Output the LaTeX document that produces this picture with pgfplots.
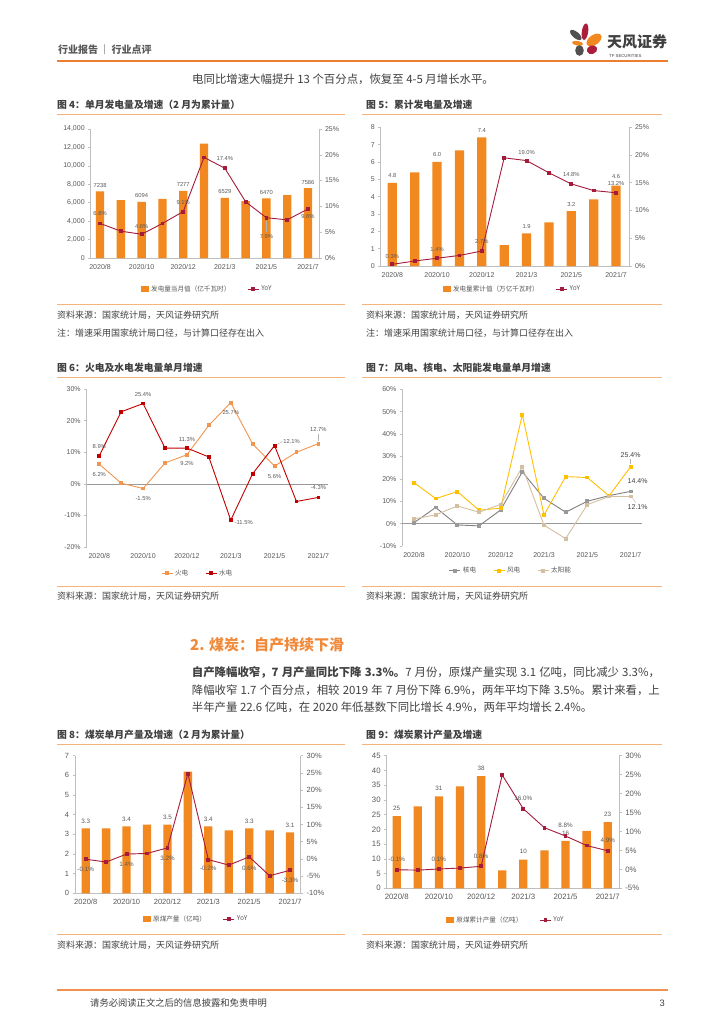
\documentclass[border=0pt]{standalone}
\usepackage{fontspec}
\setmainfont{Liberation Sans}
\newfontfamily\cjk{Noto Sans CJK SC}
\usepackage{pgfplots}
\pgfplotsset{compat=1.18}

\definecolor{barorg}{RGB}{242,137,32}
\definecolor{yoyred}{RGB}{165,27,60}
\definecolor{fireorg}{RGB}{240,150,80}
\definecolor{hydred}{RGB}{192,0,0}
\definecolor{nucgray}{RGB}{128,128,128}
\definecolor{windyel}{RGB}{255,192,0}
\definecolor{soltan}{RGB}{212,192,160}
\definecolor{axgray}{RGB}{191,191,191}
\definecolor{txtgray}{RGB}{64,64,64}
\definecolor{tickgray}{RGB}{89,89,89}
\definecolor{hdrorg}{RGB}{237,125,49}
\definecolor{lineorg}{RGB}{246,180,125}
\definecolor{secorg}{RGB}{240,138,58}
\definecolor{logogray}{RGB}{80,80,80}
\definecolor{logored}{RGB}{170,30,60}

\pgfplotsset{
  pg/.style={scale only axis, anchor=south west, clip=false,
    axis line style={draw=axgray, line width=0.6pt},
    tick style={draw=axgray, line width=0.6pt},
    major tick length=2.5pt, tick align=outside,
    ticklabel style={font=\fontsize{7}{8}\selectfont, text=tickgray},
    /pgf/number format/assume math mode=true,
    scaled y ticks=false,
    xtick={0,2,4,6,8,10},
    xticklabels={2020/8,2020/10,2020/12,2021/3,2021/5,2021/7},
    x tick style={draw=none},
    legend image code/.code={\draw[mark repeat=2,mark phase=2,#1] plot coordinates {(0pt,0pt)(5.5pt,0pt)(11pt,0pt)};},
  },
  leftax/.style={pg, axis y line*=left, axis x line*=bottom},
  rightax/.style={pg, axis y line*=right, axis x line=none, xtick=\empty,
    yticklabel={\pgfmathprintnumber{\tick}\%}},
  lg/.style={legend style={at={(#1)}, anchor=center, draw=none, fill=none,
    font=\cjk\fontsize{6.6}{7}\selectfont, text=tickgray,
    /tikz/every even column/.append style={column sep=15pt}}, legend columns=-1},
  barswatch/.style={legend image code/.code={\fill[barorg] (0pt,-2.7pt) rectangle (8.5pt,2.7pt);}},
  yoy/.style={color=yoyred, line width=0.9pt, mark=square*, mark size=1.4pt},
}
\tikzset{
  lbl/.style={font=\fontsize{5.8}{6}\selectfont, text=tickgray, inner sep=0pt},
  lblb/.style={font=\fontsize{6.3}{7}\selectfont, text=tickgray, inner sep=0pt},
  ldr/.style={draw=gray!60, line width=0.4pt},
  ttl/.style={anchor=west, inner sep=0pt, font=\cjk\bfseries\fontsize{9.8}{10}\selectfont, text=txtgray},
  src/.style={anchor=west, inner sep=0pt, font=\cjk\fontsize{9}{10}\selectfont, text=txtgray},
  body/.style={anchor=west, inner sep=0pt, font=\cjk\fontsize{11.4}{12}\selectfont, text=txtgray},
}

\begin{document}
\begin{tikzpicture}
\fill[white] (0pt,0pt) rectangle (724pt,-1024pt);
\path[use as bounding box] (0pt,0pt) rectangle (724pt,-1024pt);

% ---- header ----
\node[anchor=west, inner sep=0pt, font=\cjk\bfseries\fontsize{10}{11}\selectfont, text=tickgray] at (58pt,-50pt) {行业报告\,｜\,行业点评};
\draw[hdrorg, line width=1.3pt] (57pt,-61pt) -- (668pt,-61pt);
\fill[logogray, rotate around={-40:(575.8pt,-35pt)}] (575.8pt,-35pt) ellipse (7pt and 3.2pt);
\fill[logored, rotate around={-8:(585pt,-31.7pt)}] (585pt,-31.7pt) ellipse (3.2pt and 8.3pt);
\fill[barorg, rotate around={35:(594pt,-40pt)}] (594pt,-40pt) ellipse (8.5pt and 5pt);
\fill[barorg, rotate around={-10:(577.5pt,-43.3pt)}] (577.5pt,-43.3pt) ellipse (5.6pt and 2.3pt);
\fill[logogray] (579.5pt,-50.5pt) ellipse (4.3pt and 5.3pt);
\fill[logored, rotate around={20:(592pt,-49.7pt)}] (592pt,-49.7pt) ellipse (5.3pt and 4.3pt);
\node[anchor=west, inner sep=0pt, font=\cjk\bfseries\fontsize{15}{16}\selectfont, text=txtgray] at (607pt,-42pt) {天风证券};
\node[anchor=west, inner sep=0pt, font=\fontsize{4.3}{5}\selectfont, text=txtgray] at (609pt,-56pt) {TF SECURITIES};
\node[body] at (192pt,-79pt) {电同比增速大幅提升 13 个百分点，恢复至 4-5 月增长水平。};

% ---- titles, rules, sources ----
\node[ttl] at (57pt,-105pt) {图 4：单月发电量及增速（2 月为累计量）};
\node[ttl] at (366pt,-105pt) {图 5：累计发电量及增速};
\draw[lineorg, line width=0.8pt] (57pt,-114pt) -- (345pt,-114pt);
\draw[lineorg, line width=0.8pt] (362pt,-114pt) -- (662pt,-114pt);
\draw[lineorg, line width=0.8pt] (57pt,-304pt) -- (345pt,-304pt);
\draw[lineorg, line width=0.8pt] (362pt,-304pt) -- (662pt,-304pt);
\node[src] at (57pt,-315pt) {资料来源：国家统计局，天风证券研究所};
\node[src] at (366pt,-315pt) {资料来源：国家统计局，天风证券研究所};
\node[src] at (57pt,-333pt) {注：增速采用国家统计局口径，与计算口径存在出入};
\node[src] at (366pt,-333pt) {注：增速采用国家统计局口径，与计算口径存在出入};

\node[ttl] at (57pt,-368pt) {图 6：火电及水电发电量单月增速};
\node[ttl] at (366pt,-368pt) {图 7：风电、核电、太阳能发电量单月增速};
\draw[lineorg, line width=0.8pt] (57pt,-377pt) -- (345pt,-377pt);
\draw[lineorg, line width=0.8pt] (362pt,-377pt) -- (662pt,-377pt);
\draw[lineorg, line width=0.8pt] (57pt,-586pt) -- (345pt,-586pt);
\draw[lineorg, line width=0.8pt] (362pt,-586pt) -- (662pt,-586pt);
\node[src] at (57pt,-596pt) {资料来源：国家统计局，天风证券研究所};
\node[src] at (366pt,-596pt) {资料来源：国家统计局，天风证券研究所};

\node[anchor=west, inner sep=0pt, font=\cjk\bfseries\fontsize{15}{16}\selectfont, text=secorg] at (190pt,-645pt) {2. 煤炭：自产持续下滑};
\node[body] at (191.7pt,-672.7pt) {\makebox[468pt][s]{{\bfseries 自产降幅收窄，7 月产量同比下降 3.3\%。}7 月份，原煤产量实现 3.1 亿吨，同比减少 3.3\%，}};
\node[body] at (191.7pt,-690.7pt) {\makebox[468pt][s]{降幅收窄 1.7 个百分点，相较 2019 年 7 月份下降 6.9\%，两年平均下降 3.5\%。累计来看，上}};
\node[body] at (191.7pt,-707.7pt) {半年产量 22.6 亿吨，在 2020 年低基数下同比增长 4.9\%，两年平均增长 2.4\%。};

\node[ttl] at (57pt,-735pt) {图 8：煤炭单月产量及增速（2 月为累计量）};
\node[ttl] at (366pt,-735pt) {图 9：煤炭累计产量及增速};
\draw[lineorg, line width=0.8pt] (57pt,-744pt) -- (345pt,-744pt);
\draw[lineorg, line width=0.8pt] (362pt,-744pt) -- (662pt,-744pt);
\draw[lineorg, line width=0.8pt] (57pt,-934pt) -- (345pt,-934pt);
\draw[lineorg, line width=0.8pt] (362pt,-934pt) -- (662pt,-934pt);
\node[src] at (57pt,-945pt) {资料来源：国家统计局，天风证券研究所};
\node[src] at (366pt,-945pt) {资料来源：国家统计局，天风证券研究所};

% ---- footer ----
\draw[hdrorg!85, line width=1.2pt] (57pt,-990pt) -- (668pt,-990pt);
\node[anchor=west, inner sep=0pt, font=\cjk\fontsize{9.3}{10}\selectfont, text=txtgray] at (90pt,-1003pt) {请务必阅读正文之后的信息披露和免责申明};
\node[anchor=east, inner sep=0pt, font=\fontsize{9.3}{10}\selectfont, text=txtgray] at (665pt,-1003pt) {3};

% ---- Fig 4 ----
\begin{axis}[leftax, at={(90.7pt,-258pt)}, width=228.3pt, height=129pt,
  xmin=-0.45, xmax=10.53, ymin=0, ymax=14000, ytick={0,2000,...,14000}, lg={0.51,-0.24}]
\addplot[ybar, bar width=8.3pt, fill=barorg, draw=none, barswatch] coordinates
  {(0,7238)(1,6275)(2,6094)(3,6420)(4,7277)(5,12404)(6,6529)(7,6166)(8,6470)(9,6819)(10,7586)};
\addlegendentry{发电量当月值（亿千瓦时）}
\addlegendimage{yoy}
\addlegendentry{YoY}
\node[lbl, yshift=6pt] at (axis cs:0,7238) {7238};
\node[lbl, yshift=6pt] at (axis cs:2,6094) {6094};
\node[lbl, yshift=6pt] at (axis cs:4,7277) {7277};
\node[lbl, yshift=6pt] at (axis cs:6,6529) {6529};
\node[lbl, yshift=6pt] at (axis cs:8,6470) {6470};
\node[lbl, yshift=6pt] at (axis cs:10,7586) {7586};
\end{axis}
\begin{axis}[rightax, at={(90.7pt,-258pt)}, width=228.3pt, height=129pt,
  xmin=-0.45, xmax=10.53, ymin=0, ymax=25, ytick={0,5,...,25}]
\addplot[yoy] coordinates
  {(0,6.7)(1,5.2)(2,4.6)(3,6.7)(4,9.0)(5,19.5)(6,17.4)(7,10.9)(8,7.8)(9,7.4)(10,9.5)};
\node[lbl, yshift=10pt] at (axis cs:0,6.7) {6.8\%};
\node[lbl, yshift=8pt] at (axis cs:2,4.6) {4.6\%};
\node[lbl, yshift=9pt] at (axis cs:4,9.0) {9.1\%};
\node[lbl, yshift=10pt] at (axis cs:6,17.4) {17.4\%};
\node[lbl, yshift=-19pt] at (axis cs:8,7.8) {7.9\%};
\draw[ldr] (axis cs:8,7.8) ++(0pt,-3pt) -- ++(0pt,-11pt);
\node[lbl, yshift=-8pt] at (axis cs:10,9.5) {9.6\%};
\end{axis}

% ---- Fig 5 ----
\begin{axis}[leftax, at={(380.7pt,-266pt)}, width=248.3pt, height=138.7pt,
  xmin=-0.52, xmax=10.58, ymin=0, ymax=8, ytick={0,1,...,8}, lg={0.53,-0.166}]
\addplot[ybar, bar width=9.3pt, fill=barorg, draw=none, barswatch] coordinates
  {(0,4.8)(1,5.4)(2,6.0)(3,6.67)(4,7.42)(5,1.21)(6,1.88)(7,2.52)(8,3.17)(9,3.85)(10,4.63)};
\addlegendentry{发电量累计值（万亿千瓦时）}
\addlegendimage{yoy}
\addlegendentry{YoY}
\node[lbl, yshift=7pt] at (axis cs:0,4.8) {4.8};
\node[lbl, yshift=7pt] at (axis cs:2,6.0) {6.0};
\node[lbl, yshift=7pt] at (axis cs:4,7.42) {7.4};
\node[lbl, yshift=7pt] at (axis cs:6,1.88) {1.9};
\node[lbl, yshift=7pt] at (axis cs:8,3.17) {3.2};
\node[lbl, yshift=9pt] at (axis cs:10,4.63) {4.6};
\end{axis}
\begin{axis}[rightax, at={(380.7pt,-266pt)}, width=248.3pt, height=138.7pt,
  xmin=-0.52, xmax=10.58, ymin=0, ymax=25, ytick={0,5,...,25}]
\addplot[yoy] coordinates
  {(0,0.3)(1,0.9)(2,1.4)(3,1.9)(4,2.7)(5,19.5)(6,19.0)(7,16.8)(8,14.8)(9,13.6)(10,13.2)};
\node[lbl, yshift=8pt] at (axis cs:0,0.3) {0.3\%};
\node[lbl, yshift=9pt] at (axis cs:2,1.4) {1.4\%};
\node[lbl, yshift=10pt] at (axis cs:4,2.7) {2.7\%};
\node[lbl, yshift=8pt] at (axis cs:6,19.0) {19.0\%};
\node[lbl, yshift=9pt] at (axis cs:8,14.8) {14.8\%};
\node[lbl, yshift=9pt] at (axis cs:10,13.2) {13.2\%};
\end{axis}

% ---- Fig 6 ----
\begin{axis}[pg, axis y line*=left, axis x line*=bottom, x axis line style={draw=none},
  at={(86.7pt,-547pt)}, width=241.3pt, height=158pt,
  xmin=-0.575, xmax=10.44, ymin=-20, ymax=30, ytick={-20,-10,...,30},
  yticklabel={\pgfmathprintnumber{\tick}\%},
  extra y ticks={0}, extra y tick labels={},
  extra y tick style={grid=major, major grid style={draw=gray!80, line width=0.6pt}, tick style={draw=none}},
  lg={0.46,-0.165}]
\addplot[fireorg, line width=0.9pt, mark=square*, mark size=1.4pt] coordinates
  {(0,6.2)(1,0.2)(2,-1.5)(3,6.6)(4,9.2)(5,18.5)(6,25.7)(7,12.6)(8,5.6)(9,10.0)(10,12.7)};
\addlegendentry{火电}
\addplot[hydred, line width=0.9pt, mark=square*, mark size=1.4pt] coordinates
  {(0,8.9)(1,22.8)(2,25.4)(3,11.3)(4,11.3)(5,8.5)(6,-11.5)(7,3.2)(8,12.1)(9,-5.6)(10,-4.3)};
\addlegendentry{水电}
\node[lbl, yshift=9pt] at (axis cs:0,8.9) {8.9\%};
\node[lbl, yshift=-10pt] at (axis cs:0,6.2) {6.2\%};
\node[lbl, yshift=9pt] at (axis cs:2,25.4) {25.4\%};
\node[lbl, yshift=-10pt] at (axis cs:2,-1.5) {-1.5\%};
\node[lbl, yshift=9pt] at (axis cs:4,11.3) {11.3\%};
\node[lbl, yshift=-9pt] at (axis cs:4,9.2) {9.2\%};
\node[lbl, yshift=-10pt] at (axis cs:6,25.7) {25.7\%};
\node[lbl, xshift=13pt, yshift=-2pt] at (axis cs:6,-11.5) {-11.5\%};
\node[lbl, xshift=17pt, yshift=4pt] at (axis cs:8,12.1) {12.1\%};
\draw[ldr] (axis cs:8,12.1) ++(2pt,1pt) -- ++(6pt,3pt);
\node[lbl, yshift=-10pt] at (axis cs:8,5.6) {5.6\%};
\node[lbl, yshift=14pt] at (axis cs:10,12.7) {12.7\%};
\draw[ldr] (axis cs:10,12.7) ++(0pt,3pt) -- ++(0pt,7pt);
\node[lbl, yshift=10pt] at (axis cs:10,-4.3) {-4.3\%};
\end{axis}

% ---- Fig 7 ----
\begin{axis}[pg, axis y line*=left, axis x line*=bottom, x axis line style={draw=none},
  at={(402.3pt,-546pt)}, width=239.4pt, height=156.7pt,
  xmin=-0.54, xmax=10.51, ymin=-10, ymax=60, ytick={-10,0,...,60},
  yticklabel={\pgfmathprintnumber{\tick}\%},
  extra y ticks={0}, extra y tick labels={},
  extra y tick style={grid=major, major grid style={draw=gray!80, line width=0.6pt}, tick style={draw=none}},
  lg={0.454,-0.158}]
\addplot[nucgray, line width=0.9pt, mark=square*, mark size=1.4pt, mark options={fill=gray!120!black, draw=gray!120!black}] coordinates
  {(0,0.4)(1,7.2)(2,-0.6)(3,-1.0)(4,6.1)(5,23.1)(6,11.3)(7,5.1)(8,10.0)(9,12.5)(10,14.4)};
\addlegendentry{核电}
\addplot[windyel, line width=0.9pt, mark=square*, mark size=1.4pt] coordinates
  {(0,18.3)(1,11.2)(2,14.3)(3,6.0)(4,6.9)(5,48.7)(6,3.9)(7,21.0)(8,20.6)(9,12.4)(10,25.4)};
\addlegendentry{风电}
\addplot[soltan, line width=0.9pt, mark=square*, mark size=1.4pt] coordinates
  {(0,2.1)(1,3.9)(2,7.9)(3,5.1)(4,8.6)(5,25.3)(6,-0.7)(7,-6.7)(8,8.5)(9,12.1)(10,12.1)};
\addlegendentry{太阳能}
\node[font=\fontsize{7}{8}\selectfont, text=txtgray, inner sep=0pt, yshift=12pt] at (axis cs:10,25.4) {25.4\%};
\draw[ldr] (axis cs:10,25.4) ++(0pt,2.5pt) -- ++(0pt,5pt);
\node[font=\fontsize{7}{8}\selectfont, text=txtgray, inner sep=0pt, xshift=7pt, yshift=10pt] at (axis cs:10,14.4) {14.4\%};
\node[font=\fontsize{7}{8}\selectfont, text=txtgray, inner sep=0pt, xshift=7pt, yshift=-11pt] at (axis cs:10,12.1) {12.1\%};
\draw[ldr] (axis cs:10,12.1) ++(2pt,-2pt) -- ++(3pt,-4pt);
\end{axis}

% ---- Fig 8 ----
\begin{axis}[leftax, at={(75pt,-893.3pt)}, width=225.7pt, height=137.6pt,
  ticklabel style={font=\fontsize{7.5}{8}\selectfont},
  xmin=-0.524, xmax=10.52, ymin=0, ymax=7, ytick={0,1,...,7}, lg={0.536,-0.187}]
\addplot[ybar, bar width=8.3pt, fill=barorg, draw=none, barswatch] coordinates
  {(0,3.3)(1,3.3)(2,3.4)(3,3.5)(4,3.5)(5,6.19)(6,3.4)(7,3.2)(8,3.3)(9,3.2)(10,3.1)};
\addlegendentry{原煤产量（亿吨）}
\addlegendimage{yoy}
\addlegendentry{YoY}
\node[lblb, yshift=7.5pt] at (axis cs:0,3.3) {3.3};
\node[lblb, yshift=7.5pt] at (axis cs:2,3.4) {3.4};
\node[lblb, yshift=7.5pt] at (axis cs:4,3.5) {3.5};
\node[lblb, yshift=7.5pt] at (axis cs:6,3.4) {3.4};
\node[lblb, yshift=7.5pt] at (axis cs:8,3.3) {3.3};
\node[lblb, yshift=7.5pt] at (axis cs:10,3.1) {3.1};
\end{axis}
\begin{axis}[rightax, at={(75pt,-893.3pt)}, width=225.7pt, height=137.6pt,
  ticklabel style={font=\fontsize{7.5}{8}\selectfont},
  xmin=-0.524, xmax=10.52, ymin=-10, ymax=30, ytick={-10,-5,...,30}]
\addplot[yoy] coordinates
  {(0,-0.1)(1,-0.9)(2,1.4)(3,1.6)(4,3.2)(5,24.8)(6,-0.2)(7,-1.8)(8,0.6)(9,-4.9)(10,-3.3)};
\node[lblb, yshift=-10pt] at (axis cs:0,-0.1) {-0.1\%};
\node[lblb, yshift=-10pt] at (axis cs:2,1.4) {1.4\%};
\node[lblb, yshift=-10pt] at (axis cs:4,3.2) {3.2\%};
\node[lblb, yshift=-9pt] at (axis cs:6,-0.2) {-0.2\%};
\node[lblb, yshift=-11pt] at (axis cs:8,0.6) {0.6\%};
\node[lblb, yshift=-10pt] at (axis cs:10,-3.3) {-3.3\%};
\end{axis}

% ---- Fig 9 ----
\begin{axis}[leftax, at={(386.7pt,-888.3pt)}, width=232.6pt, height=132.6pt,
  ticklabel style={font=\fontsize{7.8}{8}\selectfont},
  xmin=-0.474, xmax=10.55, ymin=0, ymax=45, ytick={0,5,...,45}, lg={0.512,-0.24}]
\addplot[ybar, bar width=8.3pt, fill=barorg, draw=none, barswatch] coordinates
  {(0,24.5)(1,27.8)(2,31.2)(3,34.6)(4,38.1)(5,6.1)(6,9.7)(7,12.9)(8,16.1)(9,19.5)(10,22.5)};
\addlegendentry{原煤累计产量（亿吨）}
\addlegendimage{yoy}
\addlegendentry{YoY}
\node[lblb, yshift=8pt] at (axis cs:0,24.5) {25};
\node[lblb, yshift=8pt] at (axis cs:2,31.2) {31};
\node[lblb, yshift=8pt] at (axis cs:4,38.1) {38};
\node[lblb, yshift=8pt] at (axis cs:6,9.7) {10};
\node[lblb, yshift=8pt] at (axis cs:8,16.1) {16};
\node[lblb, yshift=8pt] at (axis cs:10,22.5) {23};
\end{axis}
\begin{axis}[rightax, at={(386.7pt,-888.3pt)}, width=232.6pt, height=132.6pt,
  ticklabel style={font=\fontsize{7.8}{8}\selectfont},
  xmin=-0.474, xmax=10.55, ymin=-5, ymax=30, ytick={-5,0,...,30}]
\addplot[yoy] coordinates
  {(0,-0.1)(1,-0.2)(2,0.1)(3,0.35)(4,0.8)(5,24.9)(6,16.0)(7,11.0)(8,8.8)(9,6.3)(10,4.9)};
\node[lblb, yshift=10pt] at (axis cs:0,-0.1) {-0.1\%};
\node[lblb, yshift=10pt] at (axis cs:2,0.1) {0.1\%};
\node[lblb, yshift=10pt] at (axis cs:4,0.8) {0.8\%};
\node[lblb, yshift=10pt] at (axis cs:6,16.0) {16.0\%};
\node[lblb, yshift=11pt] at (axis cs:8,8.8) {8.8\%};
\node[lblb, yshift=10pt] at (axis cs:10,4.9) {4.9\%};
\end{axis}
\end{tikzpicture}
\end{document}
